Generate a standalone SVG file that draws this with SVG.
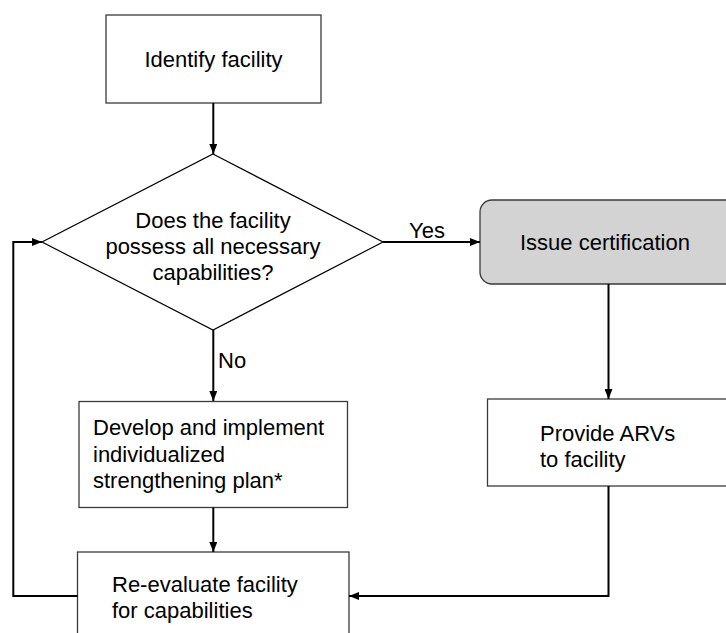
<svg xmlns="http://www.w3.org/2000/svg" width="726" height="633" viewBox="0 0 726 633">
<defs>
<style>
.box{fill:#ffffff;stroke:#3a3a3a;stroke-width:1.3}
.gray{fill:#d3d3d3;stroke:#3a3a3a;stroke-width:1.3}
.dia{fill:#ffffff;stroke:#000000;stroke-width:1.2}
.t{font-family:"Liberation Sans",Arial,sans-serif;font-size:22px;fill:#000000}
.c{fill:none;stroke:#000000;stroke-width:2}
</style>
<marker id="ah" viewBox="0 0 10 8" refX="10" refY="4" markerWidth="10" markerHeight="8" markerUnits="userSpaceOnUse" orient="auto">
<path d="M0,0 L10,4 L0,8 Z" fill="#000000"/>
</marker>
</defs>
<rect width="726" height="633" fill="#ffffff"/>
<g id="identify">
<rect class="box" x="106" y="15" width="215" height="88"/>
<text class="t" x="213.5" y="67" text-anchor="middle">Identify facility</text>
</g>
<g id="decision">
<polygon class="dia" points="213,154 383,242 213,330 42,242"/>
<text class="t" x="213" y="228" text-anchor="middle">Does the facility</text>
<text class="t" x="213" y="254" text-anchor="middle">possess all necessary</text>
<text class="t" x="213" y="280" text-anchor="middle">capabilities?</text>
</g>
<g id="certify">
<rect class="gray" x="480" y="200" width="262" height="84" rx="12" ry="12"/>
<text class="t" x="520" y="250">Issue certification</text>
</g>
<g id="provide">
<rect class="box" x="487.5" y="399" width="250" height="87"/>
<text class="t" x="540" y="441">Provide ARVs</text>
<text class="t" x="540" y="467">to facility</text>
</g>
<g id="develop">
<rect class="box" x="79" y="401.5" width="268.5" height="106"/>
<text class="t" x="93" y="435">Develop and implement</text>
<text class="t" x="93" y="462">individualized</text>
<text class="t" x="93" y="488">strengthening plan*</text>
</g>
<g id="reevaluate">
<rect class="box" x="77.5" y="552" width="271.5" height="100"/>
<text class="t" x="112" y="592">Re-evaluate facility</text>
<text class="t" x="112" y="618">for capabilities</text>
</g>
<g id="connectors">
<line class="c" x1="213.3" y1="103" x2="213.3" y2="154" marker-end="url(#ah)"/>
<line class="c" x1="383" y1="242" x2="480" y2="242" marker-end="url(#ah)"/>
<text class="t" x="409" y="238">Yes</text>
<line class="c" x1="213.3" y1="330" x2="213.3" y2="401" marker-end="url(#ah)"/>
<text class="t" x="218" y="368">No</text>
<line class="c" x1="608.5" y1="284" x2="608.5" y2="399" marker-end="url(#ah)"/>
<line class="c" x1="213.3" y1="507.5" x2="213.3" y2="552" marker-end="url(#ah)"/>
<polyline class="c" points="608.5,486 608.5,596 349,596" marker-end="url(#ah)"/>
<polyline class="c" points="77.5,596 13.3,596 13.3,242 42,242" marker-end="url(#ah)"/>
</g>
</svg>
